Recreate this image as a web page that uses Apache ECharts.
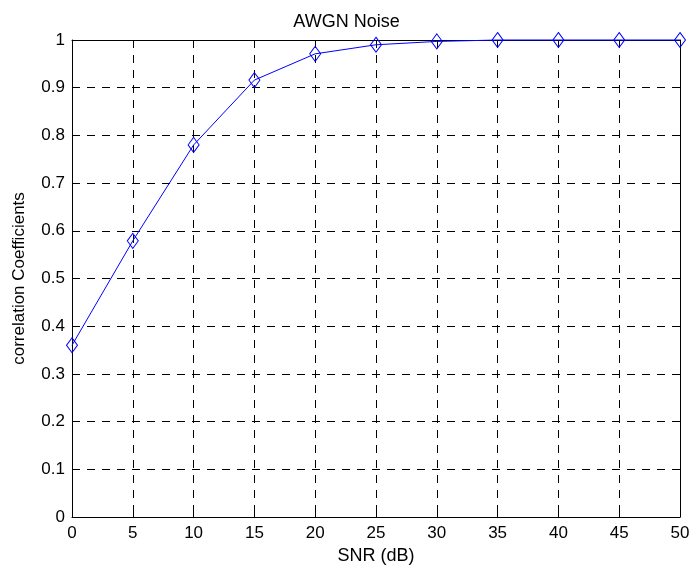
<!DOCTYPE html>
<html>
<head>
<meta charset="utf-8">
<script src="https://cdn.jsdelivr.net/npm/echarts@6/dist/echarts.min.js"></script>
<style>html,body{margin:0;padding:0;background:#fff}#c{width:693px;height:571px}</style>
</head>
<body>
<div id="c"></div>
<script>
var snr = [0, 5, 10, 15, 20, 25, 30, 35, 40, 45, 50];
var corr = [0.36, 0.579, 0.78, 0.916, 0.971, 0.99, 0.997, 1.0, 1.0, 1.0, 1.0];
var xTicks = [0, 5, 10, 15, 20, 25, 30, 35, 40, 45, 50];
var yTicks = [0, 0.1, 0.2, 0.3, 0.4, 0.5, 0.6, 0.7, 0.8, 0.9, 1];

var font = 'Liberation Sans, Arial, sans-serif';
var chart = echarts.init(document.getElementById('c'));
var data = snr.map(function (x, i) { return [x, corr[i]]; });
var axisCommon = {
  axisLine: { show: true, onZero: false, lineStyle: { color: '#000', width: 1 } },
  axisTick: { show: true, inside: true, length: 5, lineStyle: { color: '#000' } }
};
var gridDash = { color: '#000', type: [8, 7], width: 1 };
chart.setOption({
  backgroundColor: '#fff',
  animation: false,
  title: {
    text: 'AWGN Noise', left: 'center', top: 8,
    textStyle: { fontFamily: font, fontSize: 18, fontWeight: 'normal', color: '#000' }
  },
  grid: { left: 72, right: 13, top: 40, bottom: 54, show: false },
  xAxis: [
    Object.assign({
      type: 'value', min: 0, max: 50, interval: 5, position: 'bottom',
      name: 'SNR (dB)', nameLocation: 'middle', nameGap: 29,
      nameTextStyle: { fontFamily: font, fontSize: 18, color: '#000' },
      axisLabel: { fontFamily: font, fontSize: 17, color: '#000', margin: 8,
        formatter: function (v) { return xTicks.indexOf(v) >= 0 ? String(v) : ''; } },
      splitLine: { show: true, lineStyle: gridDash }
    }, axisCommon),
    Object.assign({
      type: 'value', min: 0, max: 50, interval: 5, position: 'top',
      axisLabel: { show: false }, splitLine: { show: false }
    }, axisCommon)
  ],
  yAxis: [
    Object.assign({
      type: 'value', min: 0, max: 1, interval: 0.1, position: 'left',
      name: 'correlation Coefficients', nameLocation: 'middle', nameGap: 44,
      nameTextStyle: { fontFamily: font, fontSize: 17, color: '#000' },
      axisLabel: { fontFamily: font, fontSize: 17, color: '#000', margin: 7,
        formatter: function (v) {
          var r = Math.round(v * 10) / 10;
          return yTicks.indexOf(r) >= 0 ? String(r) : '';
        } },
      splitLine: { show: true, lineStyle: gridDash }
    }, axisCommon),
    Object.assign({
      type: 'value', min: 0, max: 1, interval: 0.1, position: 'right',
      axisLabel: { show: false }, splitLine: { show: false }
    }, axisCommon)
  ],
  series: [{
    type: 'line',
    data: data,
    clip: false,
    symbol: 'diamond',
    symbolSize: [11, 15],
    showAllSymbol: true,
    lineStyle: { color: '#0000ff', width: 1 },
    itemStyle: { color: 'rgba(0,0,0,0)', borderColor: '#0000ff', borderWidth: 1 },
    z: 5
  }]
});
</script>
</body>
</html>
